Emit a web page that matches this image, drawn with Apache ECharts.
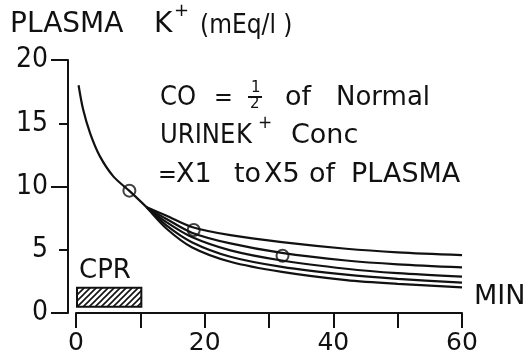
<!DOCTYPE html>
<html>
<head>
<meta charset="utf-8">
<script src="https://cdn.jsdelivr.net/npm/echarts@6/dist/echarts.min.js"></script>
<style>
  html, body { margin: 0; padding: 0; background: #fff; }
  #chart { width: 530px; height: 360px; }
</style>
</head>
<body>
<div id="chart"></div>
<script>
// common curve before the five urine-concentration curves split
const sharedTime = [0.4, 1.1, 2.2, 3.7, 5.8, 8.3, 11]
const sharedK = [18.0, 16.1, 14.2, 12.4, 10.8, 9.65, 8.35]

// after the split (urine K+ = x1 .. x5 of plasma)
const splitTime = [11, 14, 18, 24, 32, 42, 50, 60]
const kCurve1 = [8.35, 7.7, 6.8, 6.15, 5.6, 5.08, 4.8, 4.58]
const kCurve2 = [8.35, 7.45, 6.35, 5.5, 4.75, 4.15, 3.85, 3.61]
const kCurve3 = [8.35, 7.2, 6.0, 4.95, 4.15, 3.5, 3.15, 2.87]
const kCurve4 = [8.35, 6.95, 5.6, 4.45, 3.65, 3.03, 2.7, 2.4]
const kCurve5 = [8.35, 6.7, 5.2, 4.05, 3.25, 2.6, 2.3, 2.03]

// open circles
const circleTime = [8.3, 18.3, 32.1]
const circleK = [9.67, 6.56, 4.53]

// CPR bar: start, end, low, high
const cprBox = [0, 10, 0.5, 2.0]

const xTicks = [0, 20, 40, 60]

const ink = '#111'
const wide = '"DejaVu Sans", sans-serif'
const narrow = '"DejaVu Sans Condensed", "DejaVu Sans", sans-serif'

function pairs (xs, ys) {
  return xs.map((x, i) => [x, ys[i]])
}

// hatch pattern for the CPR box
function hatch () {
  const c = document.createElement('canvas')
  c.width = 6
  c.height = 6
  const ctx = c.getContext('2d')
  ctx.fillStyle = '#fff'
  ctx.fillRect(0, 0, 6, 6)
  ctx.strokeStyle = ink
  ctx.lineWidth = 1.6
  ctx.beginPath()
  ctx.moveTo(-1, 7); ctx.lineTo(7, -1)
  ctx.moveTo(-4, 4); ctx.lineTo(4, -4)
  ctx.moveTo(2, 10); ctx.lineTo(10, 2)
  ctx.stroke()
  return c
}

function txt (x, y, text, size, family) {
  return {
    type: 'text',
    x: x,
    y: y,
    style: {
      text: text,
      fill: ink,
      fontSize: size,
      fontFamily: family || wide,
      verticalAlign: 'middle',
      align: 'left'
    }
  }
}

const curves = [kCurve1, kCurve2, kCurve3, kCurve4, kCurve5]

const lineSeries = [{
  type: 'line',
  data: pairs(sharedTime, sharedK),
  smooth: 0.3,
  symbol: 'none',
  lineStyle: { color: ink, width: 2.2 }
}].concat(curves.map(k => ({
  type: 'line',
  data: pairs(splitTime, k),
  smooth: 0.3,
  symbol: 'none',
  lineStyle: { color: ink, width: 2.2 }
})))

const chart = echarts.init(document.getElementById('chart'))
chart.setOption({
  animation: false,
  backgroundColor: '#fff',
  grid: { left: 76, right: 68, top: 60, bottom: 47 },
  xAxis: {
    type: 'value',
    min: 0,
    max: 60,
    interval: 10,
    splitLine: { show: false },
    axisLine: { onZero: false, lineStyle: { color: ink, width: 2 } },
    axisTick: { length: 15, lineStyle: { color: ink, width: 2 } },
    axisLabel: {
      margin: 18,
      color: ink,
      fontSize: 25,
      fontFamily: wide,
      formatter: v => (xTicks.indexOf(v) >= 0 ? String(v) : '')
    }
  },
  yAxis: [{
    type: 'value',
    min: 0,
    max: 20,
    interval: 5,
    offset: 8,
    splitLine: { show: false },
    axisLine: { show: true, onZero: false, lineStyle: { color: ink, width: 2 } },
    axisTick: { show: true, length: 9, lineStyle: { color: ink, width: 2 } },
    axisLabel: { margin: 20, color: ink, fontSize: 28, fontFamily: narrow }
  }, {
    type: 'value',
    min: 0,
    max: 20,
    interval: 10,
    offset: 8,
    position: 'left',
    splitLine: { show: false },
    axisLine: { show: false, onZero: false },
    axisTick: { show: true, length: 17, lineStyle: { color: ink, width: 2 } },
    axisLabel: { show: false }
  }],
  series: lineSeries.concat([{
    type: 'scatter',
    data: pairs(circleTime, circleK),
    symbol: 'circle',
    symbolSize: 12,
    itemStyle: { color: 'rgba(255,255,255,0)', borderColor: ink, borderWidth: 2 },
    z: 5
  }, {
    type: 'custom',
    data: [cprBox],
    renderItem: (params, api) => {
      const p0 = api.coord([api.value(0), api.value(3)])
      const p1 = api.coord([api.value(1), api.value(2)])
      return {
        type: 'rect',
        shape: { x: p0[0] + 1, y: p0[1], width: p1[0] - p0[0], height: p1[1] - p0[1] },
        style: { fill: { image: hatch(), repeat: 'repeat' }, stroke: ink, lineWidth: 2 }
      }
    }
  }]),
  graphic: [
    // title
    txt(10, 25, 'PLASMA', 28),
    txt(154, 25, 'K', 28),
    txt(174, 11, '+', 18),
    txt(200, 26, '(mEq/l )', 26, narrow),
    // annotation
    txt(160, 98, 'CO', 27, narrow),
    txt(214, 98, '=', 25, narrow),
    txt(251, 88, '1', 15),
    { type: 'line', shape: { x1: 248, y1: 97, x2: 262, y2: 97 }, style: { stroke: ink, lineWidth: 2 } },
    txt(250, 104, '2', 15),
    txt(285, 98, 'of', 27),
    txt(336, 98, 'Normal', 26),
    txt(160, 136, 'URINE', 27, narrow),
    txt(236, 136, 'K', 27, narrow),
    txt(258, 124, '+', 17),
    txt(291, 136, 'Conc', 27),
    txt(158, 175, '=', 25, narrow),
    txt(176, 175, 'X1', 27),
    txt(234, 175, 'to', 27),
    txt(264, 175, 'X5', 27),
    txt(309, 175, 'of', 27),
    txt(351, 175, 'PLASMA', 27),
    // labels
    txt(79, 271, 'CPR', 26),
    txt(474, 297, 'MIN', 27)
  ]
})
</script>
</body>
</html>
